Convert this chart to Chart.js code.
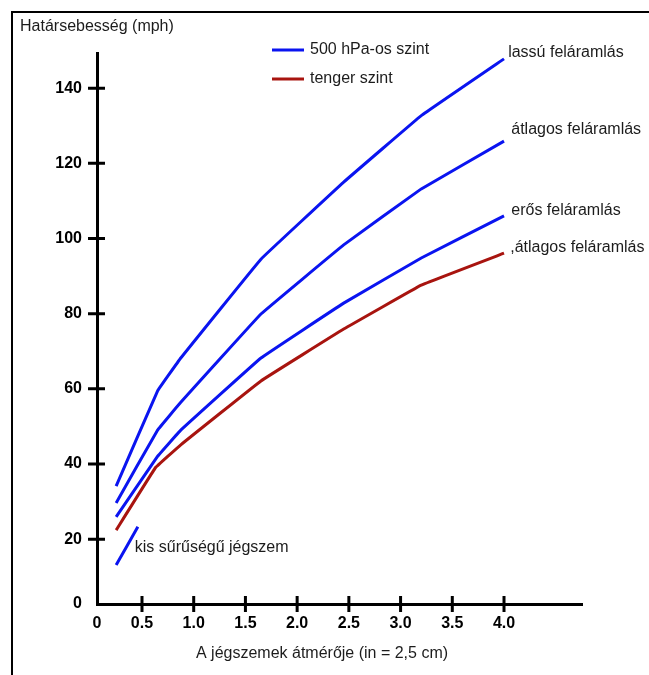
<!DOCTYPE html>
<html>
<head>
<meta charset="utf-8">
<script src="https://cdn.jsdelivr.net/npm/chart.js@4.4.1/dist/chart.umd.min.js"></script>
<style>
    html, body { margin: 0; padding: 0; background: #fff; }
    #wrap { width: 649px; height: 675px; position: relative; }
</style>
</head>
<body>
<div id="wrap"><canvas id="chart_hail-speed"></canvas></div>
<script>
// diameter (in) of hailstones
var slow_x = [0.25, 0.65, 0.875, 1.65, 2.45, 3.2, 4.0];
var slow_y = [34.1, 59.4, 68.2, 94.5, 115, 132.7, 147.8];
var avg_x = [0.25, 0.65, 0.875, 1.65, 2.45, 3.2, 4.0];
var avg_y = [29.6, 49, 56.4, 79.9, 98.3, 113.2, 125.9];
var strong_x = [0.25, 0.65, 0.875, 1.65, 2.45, 3.2, 4.0];
var strong_y = [25.9, 42, 49, 68.2, 82.8, 94.8, 106];
var sea_x = [0.25, 0.63, 0.875, 1.65, 2.45, 3.2, 4.0];
var sea_y = [22.4, 39, 45.1, 62.1, 75.9, 87.6, 96.1];
var lowdens_x = [0.25, 0.46];
var lowdens_y = [13.1, 23.3];

var x_ticks = [0.5, 1.0, 1.5, 2.0, 2.5, 3.0, 3.5, 4.0];
var y_ticks = [20, 40, 60, 80, 100, 120, 140];

var BLUE = '#0a14f0';
var RED = '#a8140f';
var TEXT = '#1c1c1c';
var FONT = '"Liberation Sans", Arial, sans-serif';

// axes cross a bit off the true origin in the original drawing
var X_MIN = 0.065, X_MAX = 4.754;
var Y_MIN = 2.74, Y_MAX = 149.36;

var pts = function (xs, ys) {
    return xs.map(function (x, i) { return { x: x, y: ys[i] }; });
};

var lineSet = function (xs, ys, color) {
    return {
        data: pts(xs, ys),
        borderColor: color,
        borderWidth: 3,
        pointRadius: 0,
        tension: 0.05,
        fill: false
    };
};

var decorations = {
    id: 'decorations',
    afterDraw: function (chart) {
        var ctx = chart.ctx;
        var xs = chart.scales.x, ys = chart.scales.y;
        var area = chart.chartArea;
        ctx.save();

        // frame
        ctx.strokeStyle = '#000';
        ctx.lineWidth = 2;
        ctx.beginPath();
        ctx.moveTo(12, 675);
        ctx.lineTo(12, 12);
        ctx.lineTo(649, 12);
        ctx.stroke();

        // tick marks crossing the axes
        ctx.lineWidth = 3;
        ctx.beginPath();
        y_ticks.forEach(function (v) {
            var py = ys.getPixelForValue(v);
            ctx.moveTo(area.left - 9, py);
            ctx.lineTo(area.left + 8, py);
        });
        x_ticks.forEach(function (v) {
            var px = xs.getPixelForValue(v);
            ctx.moveTo(px, area.bottom - 8);
            ctx.lineTo(px, area.bottom + 8);
        });
        ctx.stroke();

        // titles
        ctx.fillStyle = TEXT;
        ctx.textBaseline = 'middle';
        ctx.font = '16px ' + FONT;
        ctx.textAlign = 'left';
        ctx.fillText('Határsebesség (mph)', 20, 27);
        ctx.textAlign = 'center';
        ctx.fillText('A jégszemek átmérője (in = 2,5 cm)', 322, 654);

        // legend
        ctx.textAlign = 'left';
        ctx.lineWidth = 3;
        ctx.strokeStyle = BLUE;
        ctx.beginPath(); ctx.moveTo(272, 50); ctx.lineTo(304, 50); ctx.stroke();
        ctx.strokeStyle = RED;
        ctx.beginPath(); ctx.moveTo(272, 79); ctx.lineTo(304, 79); ctx.stroke();
        ctx.fillText('500 hPa-os szint', 310, 50);
        ctx.fillText('tenger szint', 310, 79);

        // curve labels
        var labels = [
            ['lassú feláramlás', 4.04, 149.6],
            ['átlagos feláramlás', 4.07, 128.9],
            ['erős feláramlás', 4.07, 107.3],
            [',átlagos feláramlás', 4.06, 97.5],
            ['kis sűrűségű jégszem', 0.43, 17.7]
        ];
        labels.forEach(function (l) {
            ctx.fillText(l[0], xs.getPixelForValue(l[1]), ys.getPixelForValue(l[2]));
        });
        ctx.restore();
    }
};

new Chart(document.getElementById('chart_hail-speed'), {
    type: 'line',
    data: {
        datasets: [
            lineSet(slow_x, slow_y, BLUE),
            lineSet(avg_x, avg_y, BLUE),
            lineSet(strong_x, strong_y, BLUE),
            lineSet(sea_x, sea_y, RED),
            lineSet(lowdens_x, lowdens_y, BLUE)
        ]
    },
    options: {
        responsive: true,
        maintainAspectRatio: false,
        animation: false,
        layout: {
            padding: { top: 53, right: 67, left: 0, bottom: 0 }
        },
        plugins: {
            legend: { display: false },
            tooltip: { enabled: false }
        },
        scales: {
            x: {
                type: 'linear',
                min: X_MIN,
                max: X_MAX,
                afterBuildTicks: function (scale) {
                    scale.ticks = [X_MIN].concat(x_ticks).map(function (v) { return { value: v }; });
                },
                afterFit: function (scale) { scale.height = 71; },
                grid: { display: true, drawOnChartArea: false, drawTicks: false },
                border: { color: '#000', width: 3 },
                ticks: {
                    padding: 10,
                    color: '#000',
                    font: { family: FONT, size: 16, weight: 'bold' },
                    maxRotation: 0,
                    autoSkip: false,
                    callback: function (v) { return v === X_MIN ? '0' : v.toFixed(1); }
                }
            },
            y: {
                type: 'linear',
                min: Y_MIN,
                max: Y_MAX,
                afterBuildTicks: function (scale) {
                    scale.ticks = [Y_MIN].concat(y_ticks).map(function (v) { return { value: v }; });
                },
                afterFit: function (scale) { scale.width = 97; },
                grid: { display: true, drawOnChartArea: false, drawTicks: false },
                border: { color: '#000', width: 3 },
                ticks: {
                    padding: 15,
                    color: '#000',
                    font: { family: FONT, size: 16, weight: 'bold' },
                    autoSkip: false,
                    callback: function (v) { return v === Y_MIN ? '0' : v; }
                }
            }
        }
    },
    plugins: [decorations]
});
</script>
</body>
</html>
